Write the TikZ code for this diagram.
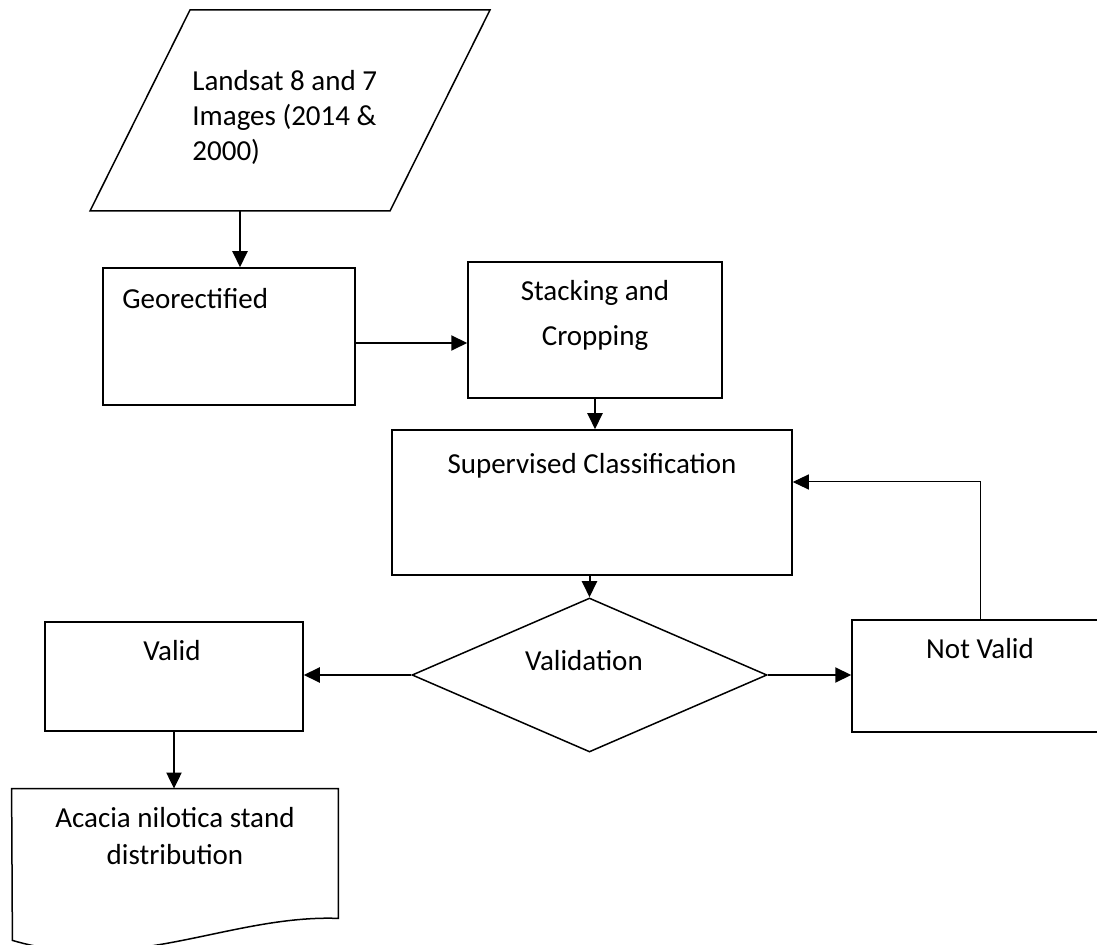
\documentclass[tikz,border=0pt]{standalone}
\usepackage{fontspec}
\setmainfont{Carlito}
\usetikzlibrary{arrows.meta,shapes.geometric}

\newcommand{\flowfont}{\fontsize{14.5}{17.5}\selectfont}

\begin{document}
\begin{tikzpicture}[x=0.5pt, y=-0.5pt, >={Triangle[length=8pt,width=7.5pt]},
    box/.style={draw, line width=0.75pt, rectangle, inner sep=0pt},
    txt/.style={inner sep=0pt, font=\flowfont},
    flow/.style={->, line width=1pt}]
    \useasboundingbox (0,0) rectangle (1097,945);

    % Nodes {landsat, geo, stack, sup, check, ok, notok, acacia}
    \coordinate (landsat) at (240,211);
    \draw [line width=0.75pt] (90,211) -- (190,10) -- (490,10) -- (390,211) -- cycle;
    \node [box, minimum width=126pt, minimum height=68.5pt] (geo)   at (229,336.5) {};
    \node [box, minimum width=127pt, minimum height=68pt]   (stack) at (595,330)   {};
    \node [box, minimum width=200pt, minimum height=72.5pt] (sup)   at (592,502.5) {};
    \node [box, diamond, minimum width=177.5pt, minimum height=77pt] (check) at (589.5,675) {};
    \node [box, minimum width=129pt, minimum height=54.5pt] (ok)    at (174,676.5) {};
    \node [box, minimum width=128pt, minimum height=56pt]   (notok) at (980,676)   {};
    \node [minimum width=163pt, minimum height=64.5pt, inner sep=0pt] (acacia) at (175,853.5) {};
    \draw [line width=0.75pt] (acacia.south east) .. controls +(-108,-4) and +(118,35) .. ++(-326,22)
        -- (acacia.north west) -- (acacia.north east) -- cycle;

    % Texts (base = last line)
    \node [txt, anchor=base west, align=left] (landsattxt) at (192,161) {Landsat 8 and 7\\Images (2014 \&\\2000)};
    \node [txt, anchor=base west] (geotxt) at (122,309) {Georectified};
    \node [txt, anchor=base, align=center] (stacktxt) at (595,346) {Stacking and\\[5pt]Cropping};
    \node [txt, anchor=base] (suptxt)   at (592,474) {Supervised Classification};
    \node [txt, anchor=base] (checktxt) at (584,671) {Validation};
    \node [txt, anchor=base] (oktxt)    at (172,661) {Valid};
    \node [txt, anchor=base] (notoktxt) at (980,659) {Not Valid};
    \node [txt, anchor=base, align=center] (acaciatxt) at (175,864) {Acacia nilotica stand\\[1pt]distribution};

    % Paths
    \coordinate (geoout) at ([yshift=-3.25pt]geo.east);
    \coordinate (back)   at ([yshift=10.25pt]sup.east);
    \path [flow] (landsat)             edge (landsat |- geo.north);
    \path [flow] (geoout)              edge (geoout -| stack.west);
    \path [flow] (stack.south)         edge (stack.south |- sup.north);
    \path [flow] (check.north |- sup.south) edge (check.north);
    \path [flow] (check.west)          edge (check.west -| ok.east);
    \path [flow] (check.east)          edge (check.east -| notok.west);
    \path [flow] (ok.south)            edge (ok.south |- acacia.north);
    \draw [->, line width=0.5pt] (notok.north) |- (back);
\end{tikzpicture}
\end{document}
